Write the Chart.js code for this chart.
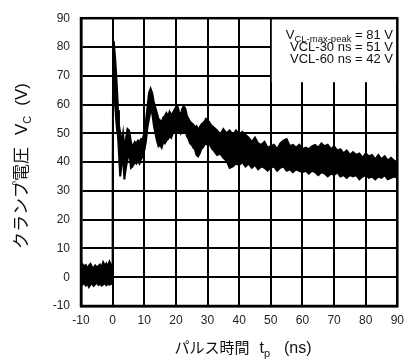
<!DOCTYPE html>
<html>
<head>
<meta charset="utf-8">
<script src="https://cdn.jsdelivr.net/npm/chart.js@4.4.1/dist/chart.umd.min.js"></script>
<style>
  html, body { margin: 0; padding: 0; background: #fff; }
  #wrap { width: 411px; height: 363px; }
</style>
</head>
<body>
<div id="wrap"><canvas id="clampChart"></canvas></div>
<script>
// クランプ電圧の波形 (上側と下側の包絡線をグラフから読み取り)
const timeNs = [
  -10, -9.5, -9, -8.5, -8, -7.5, -7, -6.5, -6, -5.5, -5, -4.5, -4, -3.5, -3, -2.5, -2, -1.5, -1, -0.5, -0.1,
  0.05, 0.15, 0.4, 0.8, 1.1, 1.4, 1.7, 2.0, 2.4, 2.9, 3.3, 3.7, 4.2, 4.7, 5.2, 5.8, 6.3, 7, 7.5, 8, 8.5, 9, 9.5,
  10, 10.5, 11, 11.5, 12, 12.5, 13, 13.5, 14, 14.5, 15, 15.5, 16, 16.5, 17, 17.5, 18, 18.5, 19, 19.5,
  20, 20.5, 21, 21.5, 22, 22.5, 23, 23.5, 24, 24.5, 25, 25.5, 26, 26.5, 27, 27.5, 28, 28.5, 29, 29.5,
  30, 30.5, 31, 31.5, 32, 33, 34, 35, 36, 37, 38, 39, 40,
  41, 42, 43, 44, 45, 46, 47, 48, 49, 50, 51, 52, 53, 54, 55, 56, 57, 58, 59, 60,
  61, 62, 63, 64, 65, 66, 67, 68, 69, 70, 71, 72, 73, 74, 75, 76, 77, 78, 79, 80,
  81, 82, 83, 84, 85, 86, 87, 88, 89, 90
];
const upperV = [
  3.5, 4.5, 3.8, 4.2, 3.0, 4.0, 4.6, 3.6, 3.2, 4.1, 3.4, 3.9, 4.4, 3.3, 5.2, 4.0, 4.8, 3.7, 5.4, 4.3, 4.0,
  40, 82, 81.5, 76, 71, 65, 58, 53, 50, 47, 50, 45, 48, 51.5, 51, 47, 45, 47, 46.5, 47.5, 47, 48, 48,
  50, 54, 59, 64, 65.5, 64, 61, 59, 57, 55, 54.5, 54, 55.5, 56, 57, 56, 57.5, 56.5, 57, 58,
  59, 59.5, 57.5, 56, 58.5, 59.5, 58.5, 56, 55, 54, 53.5, 53, 52, 52.5, 51.5, 52, 53, 53.5, 54, 55,
  54.5, 54, 53, 52.5, 52, 51, 49.5, 51.5, 50, 51, 49.5, 51, 49.5,
  50.5, 49.5, 48.5, 47, 48.5, 46.5, 46, 47, 45, 45.5, 46, 44.5, 46.5, 47.5, 48, 45.5, 46, 45, 46, 44.5,
  45, 44.5, 45.5, 46, 45, 46.5, 45.5, 46, 44.5, 45.5, 44, 44.5, 43, 44, 42.5, 43.5, 42.5, 43, 41.5, 43,
  42, 42.5, 41, 42.5, 41, 42, 40.5, 41.5, 40.5, 40
];
const lowerV = [
  -1.8, -2.5, -2.0, -2.9, -2.2, -3.4, -2.6, -2.1, -3.0, -2.4, -1.9, -2.7, -2.2, -2.9, -2.5, -2.0, -2.8, -2.3, -2.6, -2.1, -2.4,
  20, 74, 66, 60, 55, 51, 49, 49, 35, 40, 42, 34, 38, 41, 44, 38, 38.5, 40, 39.5, 40.5, 39.5, 41, 42,
  44, 47, 52, 55, 58, 57, 53, 50, 47.5, 45.5, 46, 45, 47, 46.5, 47.5, 48, 49, 48.5, 50, 50.5,
  51, 50.5, 51, 50, 51.5, 50.5, 51, 49, 48, 46.5, 46, 45, 44.5, 42.5, 42, 43, 44.5, 45, 46, 46.5,
  46, 46.5, 45.5, 44.5, 44, 42.5, 43, 41.5, 40.5, 38, 38.5, 39.5, 39,
  40, 38.5, 39.5, 38, 39, 37.5, 38.5, 38, 37, 38, 38.5, 37, 38, 38.5, 37, 37.5, 36.5, 37.5, 37, 36.5,
  37, 36, 37, 36.5, 35.5, 36.5, 36, 35, 36, 35.5, 36.5, 35, 35.5, 34.5, 35.5, 35, 35.5, 34, 35, 35.5,
  34.5, 35, 34, 35, 34.5, 35.5, 34, 34.5, 35, 34.5
];

const xTicks = [-10, 0, 10, 20, 30, 40, 50, 60, 70, 80, 90];
const yTicks = [-10, 0, 10, 20, 30, 40, 50, 60, 70, 80, 90];

const noteLines = [
  [['V', 13, 0], ['CL-max-peak', 9.5, 3], [' = 81 V', 13, 0]],
  [['VCL-30 ns = 51 V', 13, 0]],
  [['VCL-60 ns = 42 V', 13, 0]]
];
const yTitle = [['クランプ電圧', 17, 0, 'jp'], ['V', 17, 0, 'lat', 12], ['C', 11, 4, 'lat'], ['(V)', 17, 0, 'lat', 10]];
const xTitle = [['パルス時間', 15, 0, 'jp'], ['t', 16, 0, 'lat', 10], ['p', 11, 4, 'lat'], ['(ns)', 16, 0, 'lat', 14]];

const LAT = '"Liberation Sans", Arial, sans-serif';
const JP = '"Noto Sans CJK JP", "Noto Sans", sans-serif';

function drawRuns(ctx, runs, x, y, align) {
  let total = 0;
  const parts = runs.map(r => {
    const fam = r[3] === 'jp' ? JP : LAT;
    ctx.font = r[1] + 'px ' + fam;
    const w = ctx.measureText(r[0]).width;
    const gap = r[4] || 0;
    total += w + gap;
    return { text: r[0], font: ctx.font, dy: r[2], w, gap };
  });
  let cx = align === 'right' ? x - total : align === 'center' ? x - total / 2 : x;
  parts.forEach(p => {
    cx += p.gap;
    ctx.font = p.font;
    ctx.fillText(p.text, cx, y + p.dy);
    cx += p.w;
  });
}

const decorPlugin = {
  id: 'decor',
  afterDraw(chart) {
    const { ctx, chartArea: a, scales: { x } } = chart;
    ctx.save();
    // 注記ボックス
    const bx = x.getPixelForValue(50) + 1;
    ctx.fillStyle = '#fff';
    ctx.fillRect(bx, a.top, a.right - bx, 64);
    ctx.fillStyle = '#111';
    ctx.textBaseline = 'alphabetic';
    noteLines.forEach((line, i) => drawRuns(ctx, line, 393, a.top + 21 + i * 12, 'right'));
    // 枠
    ctx.strokeStyle = '#000';
    ctx.lineWidth = 2.5;
    ctx.strokeRect(a.left, a.top, a.right - a.left, a.bottom - a.top);
    // 軸タイトル
    ctx.fillStyle = '#111';
    drawRuns(ctx, xTitle, 243, 353, 'center');
    ctx.translate(27, 166);
    ctx.rotate(-Math.PI / 2);
    drawRuns(ctx, yTitle, 0, 0, 'center');
    ctx.restore();
  }
};

const ctx = document.getElementById('clampChart').getContext('2d');
new Chart(ctx, {
  type: 'line',
  data: {
    datasets: [
      {
        label: 'upper',
        data: timeNs.map((t, i) => ({ x: t, y: upperV[i] })),
        borderColor: '#000',
        backgroundColor: '#000',
        borderWidth: 2,
        pointRadius: 0,
        tension: 0,
        fill: false
      },
      {
        label: 'lower',
        data: timeNs.map((t, i) => ({ x: t, y: lowerV[i] })),
        borderColor: '#000',
        backgroundColor: '#000',
        borderWidth: 2,
        pointRadius: 0,
        tension: 0,
        fill: '-1'
      }
    ]
  },
  options: {
    responsive: true,
    maintainAspectRatio: false,
    animation: false,
    layout: { padding: { top: 15, right: 7, left: 0, bottom: 0 } },
    plugins: {
      legend: { display: false },
      tooltip: { enabled: false }
    },
    scales: {
      x: {
        type: 'linear',
        min: xTicks[0],
        max: xTicks[xTicks.length - 1],
        afterBuildTicks: s => { s.ticks = xTicks.map(v => ({ value: v })); },
        afterFit: s => { s.height = 57; },
        ticks: { color: '#222', padding: 7, maxRotation: 0, font: { family: LAT, size: 12 } },
        grid: { color: '#000', lineWidth: 2, drawTicks: false },
        border: { color: '#000', width: 2.5 }
      },
      y: {
        type: 'linear',
        min: yTicks[0],
        max: yTicks[yTicks.length - 1],
        afterBuildTicks: s => { s.ticks = yTicks.map(v => ({ value: v })); },
        afterFit: s => { s.width = 81; },
        ticks: { color: '#222', padding: 11, font: { family: LAT, size: 12 } },
        grid: { color: '#000', lineWidth: 2, drawTicks: false },
        border: { color: '#000', width: 2.5 }
      }
    }
  },
  plugins: [decorPlugin]
});
</script>
</body>
</html>
